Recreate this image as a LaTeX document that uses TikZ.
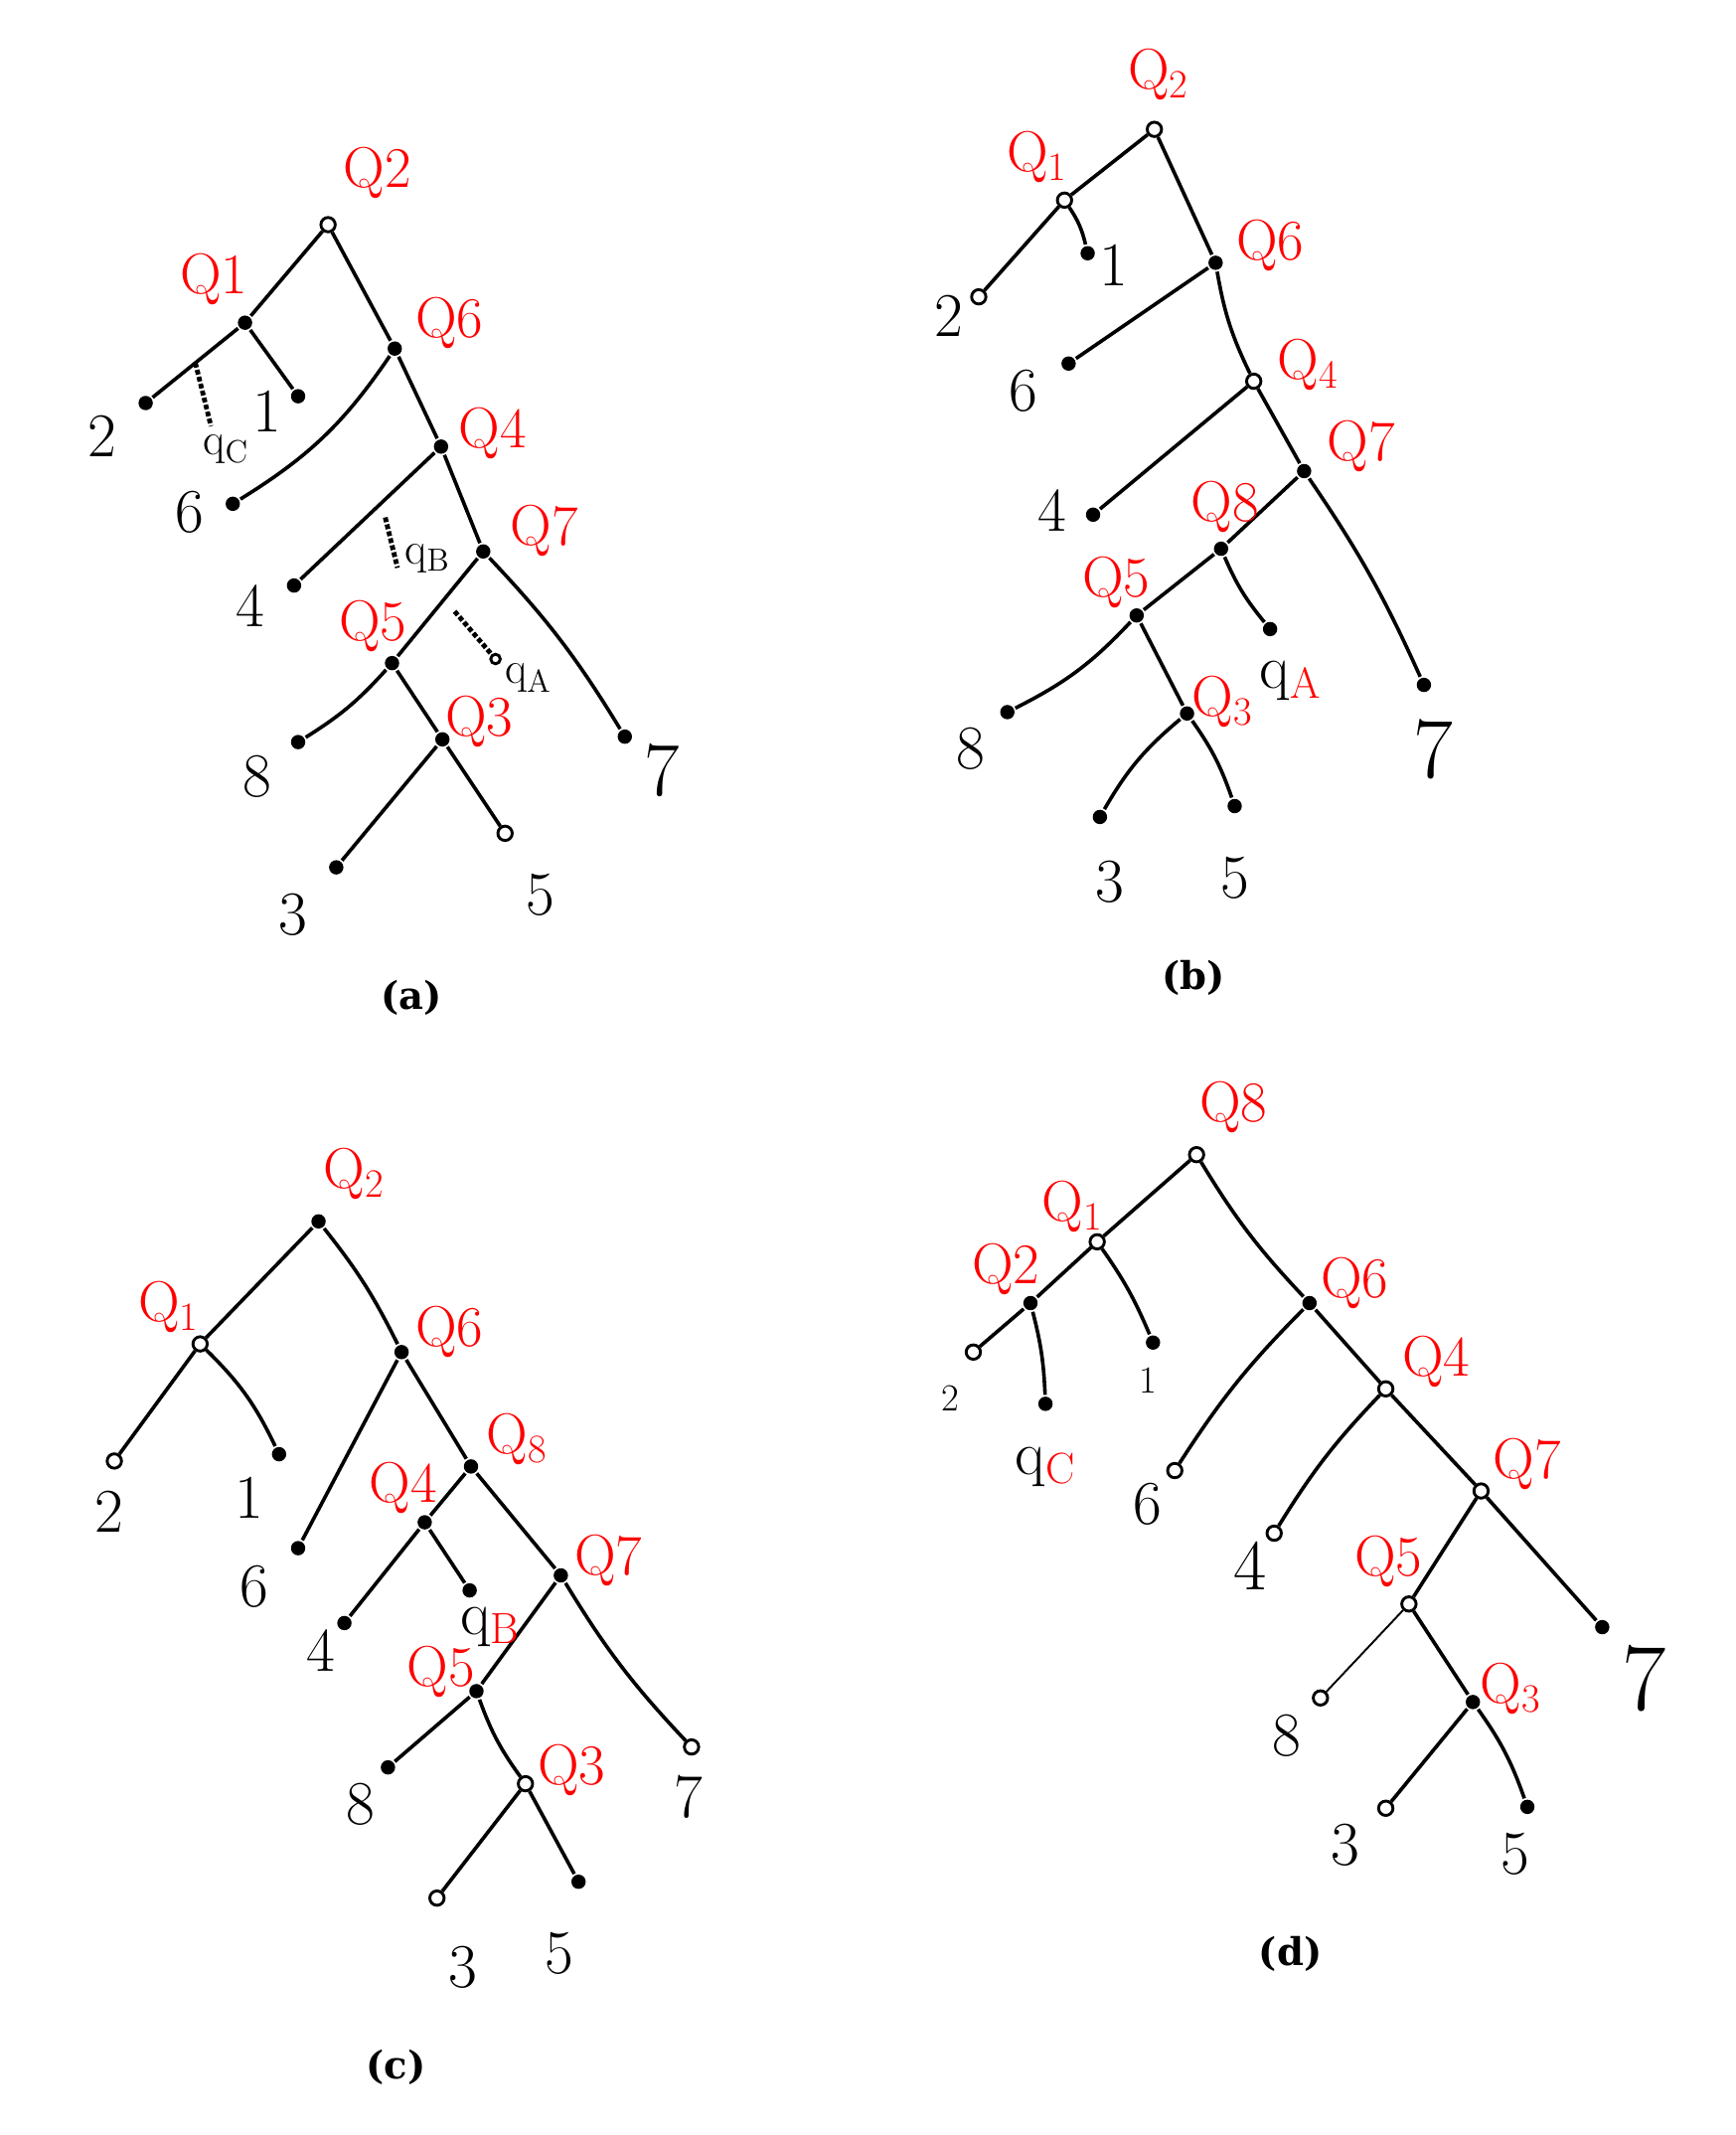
\documentclass[tikz,border=0pt]{standalone}
\usepackage{fontspec}
\usetikzlibrary{calc}
\newfontfamily\capfont{DejaVu Serif}

\begin{document}
\begin{tikzpicture}[x=0.02cm,y=-0.02cm,line width=1.5pt,
  full/.style={circle,fill=black,inner sep=0pt,minimum size=6pt},
  hollow/.style={circle,draw=black,fill=white,line width=1.2pt,inner sep=0pt,minimum size=6pt},
  qlab/.style={text=red,font=\fontsize{24}{24}\selectfont},
  num/.style={font=\fontsize{26}{26}\selectfont},
  smallq/.style={font=\fontsize{19}{19}\selectfont},
  captxt/.style={font=\capfont\bfseries\fontsize{16}{16}\selectfont}]
\useasboundingbox (0,0) rectangle (1275,1568);

% (a)
\node[hollow] (aQ2) at (241,165) {};
\node[full] (aQ1) at (180,237) {};
\node[full] (a2) at (107,296) {};
\node[full] (a1) at (219,291) {};
\node[full] (aQ6) at (290,256) {};
\node[full] (a6) at (171,370) {};
\node[full] (aQ4) at (324,328) {};
\node[full] (a4) at (216,430) {};
\node[full] (aQ7) at (355,405) {};
\node[full] (aQ5) at (288,487) {};
\node[full] (a8) at (219,545) {};
\node[full] (aQ3) at (325,543) {};
\node[full] (a3) at (247,637) {};
\node[hollow] (a5) at (371,612) {};
\node[full] (a7) at (459,541) {};

\draw (aQ2) -- (aQ1) (aQ2) -- (aQ6) (aQ1) -- (a2) (aQ1) -- (a1);
\draw (aQ6) to[bend left=12] (a6);
\draw (aQ6) -- (aQ4) (aQ4) -- (a4) (aQ4) -- (aQ7);
\draw (aQ7) -- (aQ5) (aQ7) to[bend left=6] (a7);
\draw (aQ5) to[bend left=8] (a8);
\draw (aQ5) -- (aQ3) (aQ3) -- (a3) (aQ3) -- (a5);

\coordinate (aqCs) at ($(aQ1)!0.5!(a2)$);
\coordinate (aqCe) at (155,313);
\coordinate (aqBs) at (283,380);
\coordinate (aqBe) at (292,417);
\coordinate (aqAs) at (334,449);
\node[hollow,minimum size=4pt] (aqAe) at (364,484) {};
\draw[densely dotted,line width=2pt] (aqCs) -- (aqCe);
\draw[densely dotted,line width=2pt] (aqBs) -- (aqBe);
\draw[densely dotted,line width=2pt] (aqAs) -- (aqAe);

\node[qlab] (aQ2l) at (277,127) {Q2};
\node[qlab] (aQ1l) at (157,205) {Q1};
\node[qlab] (aQ6l) at (330,237) {Q6};
\node[qlab] (aQ4l) at (362,318) {Q4};
\node[qlab] (aQ7l) at (400,390) {Q7};
\node[qlab] (aQ5l) at (274,460) {Q5};
\node[qlab] (aQ3l) at (352,530) {Q3};
\node[num] (a2l) at (75,320) {2};
\node[num] (a1l) at (196,302) {1};
\node[num] (a6l) at (139,376) {6};
\node[num] (a4l) at (184,445) {4};
\node[num] (a8l) at (189,570) {8};
\node[num] (a3l) at (215,672) {3};
\node[num] (a5l) at (397,657) {5};
\node[num,font=\fontsize{32}{32}\selectfont] (a7l) at (486,566) {7};
\node[smallq] (aqCl) at (166,330) {q\textsubscript{C}};
\node[smallq] (aqBl) at (314,410) {q\textsubscript{B}};
\node[smallq] (aqAl) at (388,498) {q\textsubscript{A}};
\node[captxt] (acap) at (302,733) {(a)};

% (b)
\node[hollow] (bQ2) at (848,95) {};
\node[hollow] (bQ1) at (782,147) {};
\node[hollow] (b2) at (719,218) {};
\node[full] (b1) at (799,186) {};
\node[full] (bQ6) at (893,193) {};
\node[full] (b6) at (785,267) {};
\node[hollow] (bQ4) at (921,280) {};
\node[full] (b4) at (803,378) {};
\node[full] (bQ7) at (958,346) {};
\node[full] (bQ8) at (897,403) {};
\node[full] (bQ5) at (835,452) {};
\node[full] (bqA) at (933,462) {};
\node[full] (b8) at (740,523) {};
\node[full] (bQ3) at (872,524) {};
\node[full] (b3) at (808,600) {};
\node[full] (b5) at (907,592) {};
\node[full] (b7) at (1046,503) {};

\draw (bQ2) -- (bQ1) (bQ2) -- (bQ6) (bQ1) -- (b2) (bQ1) to[bend left=10] (b1);
\draw (bQ6) -- (b6) (bQ6) to[bend right=8] (bQ4) (bQ4) -- (b4) (bQ4) -- (bQ7);
\draw (bQ7) -- (bQ8) (bQ7) to[bend left=5] (b7);
\draw (bQ8) -- (bQ5) (bQ8) to[bend right=8] (bqA);
\draw (bQ5) to[bend left=10] (b8) (bQ5) -- (bQ3);
\draw (bQ3) to[bend right=10] (b3) (bQ3) to[bend left=8] (b5);

\node[qlab] (bQ2l) at (851,55) {Q\textsubscript{2}};
\node[qlab] (bQ1l) at (762,115) {Q\textsubscript{1}};
\node[qlab] (bQ6l) at (933,180) {Q6};
\node[qlab] (bQ4l) at (961,268) {Q\textsubscript{4}};
\node[qlab] (bQ7l) at (1000,328) {Q7};
\node[qlab] (bQ8l) at (900,372) {Q8};
\node[qlab] (bQ5l) at (820,428) {Q5};
\node[qlab] (bQ3l) at (898,515) {Q\textsubscript{3}};
\node[num] (b2l) at (697,232) {2};
\node[num] (b1l) at (818,195) {1};
\node[num] (b6l) at (752,287) {6};
\node[num] (b4l) at (773,375) {4};
\node[num] (b8l) at (713,550) {8};
\node[num] (b3l) at (815,648) {3};
\node[num] (b5l) at (907,645) {5};
\node[num,font=\fontsize{36}{36}\selectfont] (b7l) at (1053,550) {7};
\node[num] (bqAl) at (948,500) {q\textsubscript{\color{red}A}};
\node[captxt] (bcap) at (877,718) {(b)};

% (c)
\node[full] (cQ2) at (234,897) {};
\node[hollow] (cQ1) at (147,987) {};
\node[hollow] (c2) at (84,1073) {};
\node[full] (c1) at (205,1068) {};
\node[full] (cQ6) at (295,993) {};
\node[full] (c6) at (219,1137) {};
\node[full] (cQ8) at (346,1077) {};
\node[full] (cQ4) at (312,1118) {};
\node[full] (c4) at (253,1192) {};
\node[full] (cqB) at (345,1168) {};
\node[full] (cQ7) at (412,1157) {};
\node[full] (cQ5) at (350,1242) {};
\node[full] (c8) at (285,1298) {};
\node[hollow] (cQ3) at (386,1310) {};
\node[hollow] (c3) at (321,1394) {};
\node[full] (c5) at (425,1382) {};
\node[hollow] (c7) at (508,1283) {};

\draw (cQ2) -- (cQ1) (cQ2) to[bend left=6] (cQ6);
\draw (cQ1) -- (c2) (cQ1) to[bend left=10] (c1);
\draw (cQ6) -- (c6) (cQ6) -- (cQ8);
\draw (cQ8) -- (cQ4) (cQ8) -- (cQ7);
\draw (cQ4) -- (c4) (cQ4) -- (cqB);
\draw (cQ7) -- (cQ5) (cQ7) to[bend right=6] (c7);
\draw (cQ5) -- (c8) (cQ5) to[bend right=8] (cQ3);
\draw (cQ3) -- (c3) (cQ3) -- (c5);

\node[qlab] (cQ2l) at (260,862) {Q\textsubscript{2}};
\node[qlab] (cQ1l) at (124,960) {Q\textsubscript{1}};
\node[qlab] (cQ6l) at (330,978) {Q6};
\node[qlab] (cQ8l) at (380,1057) {Q\textsubscript{8}};
\node[qlab] (cQ4l) at (296,1093) {Q4};
\node[qlab] (cQ7l) at (447,1146) {Q7};
\node[qlab] (cQ5l) at (324,1228) {Q5};
\node[qlab] (cQ3l) at (420,1300) {Q3};
\node[num] (c2l) at (80,1110) {2};
\node[num] (c1l) at (183,1100) {1};
\node[num] (c6l) at (187,1165) {6};
\node[num] (c4l) at (236,1212) {4};
\node[num] (c8l) at (265,1325) {8};
\node[num] (c3l) at (340,1445) {3};
\node[num] (c5l) at (411,1435) {5};
\node[num] (c7l) at (506,1320) {7};
\node[num] (cqBl) at (360,1195) {q\textsubscript{\color{red}B}};
\node[captxt] (ccap) at (291,1518) {(c)};

% (d)
\node[hollow] (dQ8) at (879,848) {};
\node[hollow] (dQ1) at (806,912) {};
\node[full] (dQ2) at (757,957) {};
\node[hollow] (d2) at (715,993) {};
\node[full] (dqC) at (768,1031) {};
\node[full] (d1) at (847,986) {};
\node[full] (dQ6) at (962,957) {};
\node[hollow] (d6) at (863,1080) {};
\node[hollow] (dQ4) at (1018,1020) {};
\node[hollow] (d4) at (936,1126) {};
\node[hollow] (dQ7) at (1088,1095) {};
\node[hollow] (dQ5) at (1035,1178) {};
\node[hollow] (d8) at (970,1247) {};
\node[full] (dQ3) at (1082,1250) {};
\node[hollow] (d3) at (1018,1328) {};
\node[full] (d5) at (1122,1327) {};
\node[full] (d7) at (1177,1195) {};

\draw (dQ8) -- (dQ1) (dQ8) to[bend right=6] (dQ6);
\draw (dQ1) -- (dQ2) (dQ1) to[bend left=6] (d1);
\draw (dQ2) -- (d2) (dQ2) to[bend left=6] (dqC);
\draw (dQ6) to[bend right=6] (d6) (dQ6) -- (dQ4);
\draw (dQ4) to[bend right=6] (d4) (dQ4) -- (dQ7);
\draw (dQ7) -- (dQ5) (dQ7) -- (d7);
\draw[line width=0.8pt] (dQ5) -- (d8);
\draw (dQ5) -- (dQ3);
\draw (dQ3) -- (d3) (dQ3) to[bend left=8] (d5);

\node[qlab] (dQ8l) at (906,813) {Q8};
\node[qlab] (dQ1l) at (788,886) {Q\textsubscript{1}};
\node[qlab] (dQ2l) at (739,932) {Q2};
\node[qlab] (dQ6l) at (995,942) {Q6};
\node[qlab] (dQ4l) at (1055,1000) {Q4};
\node[qlab] (dQ7l) at (1122,1075) {Q7};
\node[qlab] (dQ5l) at (1020,1147) {Q5};
\node[qlab] (dQ3l) at (1110,1240) {Q\textsubscript{3}};
\node[num,font=\fontsize{16}{16}\selectfont] (d2l) at (698,1027) {2};
\node[num,font=\fontsize{16}{16}\selectfont] (d1l) at (843,1014) {1};
\node[num] (d6l) at (843,1105) {6};
\node[num,font=\fontsize{30}{30}\selectfont] (d4l) at (918,1150) {4};
\node[num] (d8l) at (945,1275) {8};
\node[num] (d3l) at (988,1355) {3};
\node[num] (d5l) at (1113,1362) {5};
\node[num,font=\fontsize{40}{40}\selectfont] (d7l) at (1208,1233) {7};
\node[num] (dqCl) at (768,1077) {q\textsubscript{\color{red}C}};
\node[captxt] (dcap) at (948,1435) {(d)};

\end{tikzpicture}
\end{document}
